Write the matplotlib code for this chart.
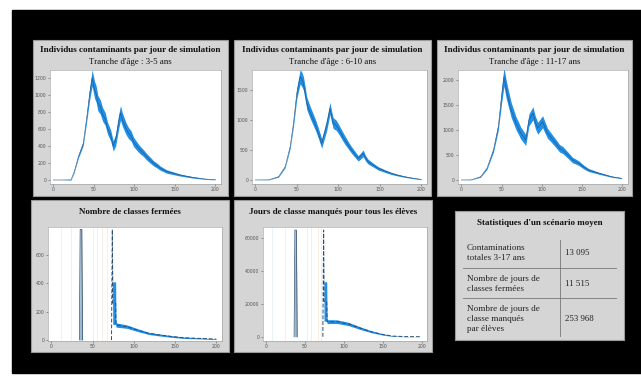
import matplotlib
matplotlib.use("Agg")
import matplotlib.pyplot as plt
from matplotlib.patches import Rectangle
from matplotlib.lines import Line2D

W, H = 641, 377

# ---- data ----
# contaminants per day, 3-5 ans
days_35 = [0, 10, 22, 26, 31, 37, 41, 45, 48, 51, 53, 55, 58, 61, 64, 67, 71, 74, 77, 79, 81, 83, 85, 87, 90, 93, 96, 99,
           103, 107, 111, 115, 120, 124, 128, 132, 136, 140, 148, 156, 164, 173, 181, 189, 200]
mean_35 = [0, 0, 2, 100, 275, 430, 710, 1020, 1200, 1060, 1010, 905, 860, 770, 720, 610, 520, 400, 470, 590, 700, 790, 720,
           670, 600, 550, 520, 450, 400, 355, 320, 275, 230, 195, 170, 140, 120, 100, 80, 60, 45, 30, 20, 10, 5]
spread_35 = [0, 0, 3, 10, 18, 25, 40, 70, 95, 100, 95, 90, 85, 80, 75, 70, 65, 60, 70, 80, 85, 85, 80, 75, 70, 65, 60, 55,
             50, 45, 40, 38, 35, 30, 28, 25, 22, 20, 16, 12, 10, 8, 6, 4, 3]

# contaminants per day, 6-10 ans
days_610 = [0, 16, 28, 36, 42, 46, 50, 54, 56, 58, 60, 62, 66, 70, 73, 76, 80, 83, 86, 90, 92, 94, 97, 100, 104, 108, 112,
            116, 120, 124, 127, 130, 133, 136, 142, 148, 156, 164, 172, 180, 190, 200]
mean_610 = [0, 2, 55, 220, 555, 945, 1445, 1720, 1680, 1610, 1450, 1280, 1130, 1000, 900, 780, 610, 760, 915, 1195, 1050,
            945, 920, 860, 760, 665, 580, 500, 430, 360, 400, 445, 360, 305, 250, 195, 150, 110, 80, 55, 30, 10]
spread_610 = [0, 2, 8, 15, 30, 50, 90, 120, 120, 115, 110, 105, 100, 95, 90, 85, 80, 85, 95, 100, 95, 90, 85, 80, 75, 70,
              60, 55, 50, 45, 50, 55, 45, 40, 32, 28, 22, 18, 14, 10, 8, 5]

# contaminants per day, 11-17 ans
days_1117 = [0, 12, 24, 32, 40, 46, 50, 53, 56, 59, 62, 65, 68, 71, 74, 77, 80, 84, 89, 92, 95, 98, 101, 104, 107, 111, 114,
             118, 122, 126, 130, 134, 138, 142, 146, 152, 158, 164, 171, 179, 187, 199]
mean_1117 = [0, 2, 65, 235, 600, 1065, 1665, 2065, 1800, 1600, 1400, 1270, 1135, 1040, 935, 870, 800, 1200, 1335, 1150, 1035,
             1100, 1165, 1050, 935, 860, 800, 720, 635, 600, 535, 470, 400, 370, 335, 260, 200, 170, 135, 100, 65, 35]
spread_1117 = [0, 2, 10, 20, 40, 70, 140, 190, 180, 160, 150, 140, 130, 125, 120, 115, 110, 120, 130, 125, 120, 120, 120,
               110, 100, 90, 85, 80, 75, 70, 65, 60, 55, 50, 45, 38, 30, 25, 20, 15, 12, 8]

# closed classes
days_cls = [0, 34, 35, 37, 38, 73, 74, 74.5, 78, 78.5, 92, 104, 118, 132, 147, 161, 177, 194, 200]
mean_cls = [0, 0, 780, 780, 0, 0, 780, 260, 260, 106, 94, 71, 47, 35, 24, 16, 12, 8, 6]
spread_cls = [0, 0, 0, 0, 0, 0, 0, 150, 150, 15, 12, 10, 8, 7, 6, 5, 4, 3, 2]
faint_cls = [12, 24, 51, 55, 61, 67]

# missed school days, all pupils
days_miss = [0, 36, 37, 39, 40, 73, 74, 74.5, 78, 78.5, 91, 106, 122, 135, 150, 163, 178, 200]
mean_miss = [0, 0, 65000, 65000, 0, 0, 65000, 21500, 21500, 9200, 9200, 7800, 5100, 3100, 1400, 400, 100, 0]
spread_miss = [0, 0, 0, 0, 0, 0, 0, 12000, 12000, 1200, 1100, 1000, 800, 600, 400, 200, 100, 0]
faint_miss = [8, 24, 52, 58, 67, 70]

# summary table
table_labels = ["Contaminations\ntotales 3-17 ans",
                "Nombre de jours de\nclasses fermées",
                "Nombre de jours de\nclasse manqués\npar élèves"]
table_values = ["13 095", "11 515", "253 968"]

band_col = '#1f8fe8'
line_col = '#2f4f6f'
serif = ['Liberation Serif', 'DejaVu Serif']


def frac(x0, y0, x1, y1):
    # pixel box -> figure fraction [left, bottom, width, height]
    return [x0 / W, 1 - y1 / H, (x1 - x0) / W, (y1 - y0) / H]


def panel(x0, y0, x1, y1):
    l, b, w, h = frac(x0, y0, x1, y1)
    fig.add_artist(Rectangle((l, b), w, h, transform=fig.transFigure,
                             facecolor='#d5d5d5', edgecolor='#9a9a9a', lw=0.8, zorder=-1))


def make_axes(box, yticks, ylim):
    ax = fig.add_axes(frac(*box))
    ax.set_facecolor('white')
    ax.set_xlim(-4, 207)
    ax.set_ylim(*ylim)
    ax.set_xticks([0, 50, 100, 150, 200])
    ax.set_yticks(yticks)
    ax.tick_params(labelsize=3.3, length=1.5, width=0.4, pad=1, colors='#555555')
    for s in ax.spines.values():
        s.set_color('#999999')
        s.set_linewidth(0.4)
    return ax


def title(xc, y, text, size=6.6, bold=True):
    fig.text(xc / W, 1 - y / H, text, ha='center', va='center', fontsize=size,
             family=serif, fontweight='bold' if bold else 'normal', color='#111111')


def band(ax, days, mean, spread):
    lo = [m - s for m, s in zip(mean, spread)]
    hi = [m + s for m, s in zip(mean, spread)]
    ax.fill_between(days, lo, hi, color=band_col, lw=0)


fig = plt.figure(figsize=(W / 100, H / 100), dpi=100)
fig.patch.set_facecolor('white')
fig.add_artist(Rectangle((12 / W, 1 - 373 / H), (W - 12) / W, 363 / H,
                         transform=fig.transFigure, color='black', zorder=-2))

# ---- top row : contaminants per age group ----
tops = [((33, 40, 228, 196), (50, 70, 221, 184), "Tranche d'âge : 3-5 ans",
         days_35, mean_35, spread_35, [0, 200, 400, 600, 800, 1000, 1200], (-47, 1294)),
        ((234, 40, 431, 196), (252, 70, 427, 184), "Tranche d'âge : 6-10 ans",
         days_610, mean_610, spread_610, [0, 500, 1000, 1500], (-67, 1833)),
        ((437, 40, 632, 196), (458, 70, 628, 184), "Tranche d'âge : 11-17 ans",
         days_1117, mean_1117, spread_1117, [0, 500, 1000, 1500, 2000], (-80, 2200))]

for pbox, abox, sub, d, m, s, yt, yl in tops:
    panel(*pbox)
    xc = (pbox[0] + pbox[2]) / 2
    title(xc, 50, "Individus contaminants par jour de simulation")
    title(xc, 62, sub, size=6.4, bold=False)
    ax = make_axes(abox, yt, yl)
    band(ax, d, m, s)
    ax.plot(d, m, color=line_col, lw=0.4)

# ---- bottom left : closed classes ----
panel(31, 200, 229, 352)
title(130, 212, "Nombre de classes fermées", size=6.5)
ax = make_axes((48, 227, 222, 341), [0, 200, 400, 600], (-7, 797))
for i, fd in enumerate(faint_cls):
    ax.axvline(fd, color='#f6b98a' if i % 2 == 0 else '#9fd0f0', lw=0.5, alpha=0.35)
ax.fill_between(days_cls[1:5], 0, mean_cls[1:5], color='#9db8cc', lw=0)
band(ax, days_cls, mean_cls, spread_cls)
ax.plot(days_cls[5:], mean_cls[5:], color=line_col, lw=0.7, ls=(0, (4, 2)))
ax.plot(days_cls[1:5], mean_cls[1:5], color=line_col, lw=0.5)

# ---- bottom middle : missed school days ----
panel(234, 200, 432, 352)
title(333, 212, "Jours de classe manqués pour tous les élèves", size=6.5)
ax = make_axes((263, 227, 427, 341), [0, 20000, 40000, 60000], (-2600, 66900))
for i, fd in enumerate(faint_miss):
    ax.axvline(fd, color='#9fd0f0' if i % 3 == 0 else '#f6b98a', lw=0.5, alpha=0.35)
ax.fill_between(days_miss[1:5], 0, mean_miss[1:5], color='#9db8cc', lw=0)
band(ax, days_miss, mean_miss, spread_miss)
ax.plot(days_miss[5:], mean_miss[5:], color=line_col, lw=0.7, ls=(0, (4, 2)))
ax.plot(days_miss[1:5], mean_miss[1:5], color=line_col, lw=0.5)

# ---- bottom right : summary table ----
panel(455, 211, 624, 340)
title(539.5, 223, "Statistiques d'un scénario moyen", size=6.5)
row_centres = [253, 284, 319]
for lab, val, yc in zip(table_labels, table_values, row_centres):
    fig.text(467 / W, 1 - yc / H, lab, ha='left', va='center', fontsize=6.6,
             family=serif, color='#222222', linespacing=1.35)
    fig.text(565 / W, 1 - yc / H, val, ha='left', va='center', fontsize=6.4,
             family=serif, color='#222222')
for yl in [268, 298]:
    fig.add_artist(Line2D([463 / W, 616 / W], [1 - yl / H, 1 - yl / H],
                          transform=fig.transFigure, color='#777777', lw=0.6))
fig.add_artist(Line2D([560 / W, 560 / W], [1 - 240 / H, 1 - 336 / H],
                      transform=fig.transFigure, color='#777777', lw=0.6))

fig.savefig("out.png", dpi=100, facecolor=fig.get_facecolor())
